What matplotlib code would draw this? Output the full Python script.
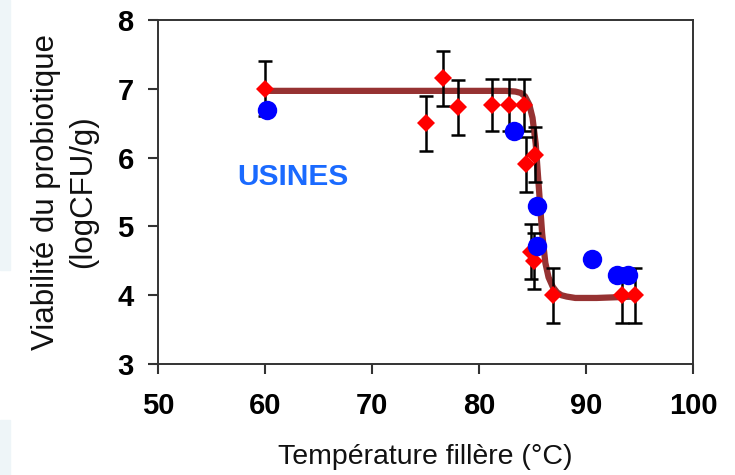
import matplotlib.pyplot as plt
from matplotlib.patches import Rectangle

plt.rcParams['font.family'] = ['Liberation Sans', 'DejaVu Sans']

# red diamonds (with error bars)
lab_temp = [60.0, 75.0, 76.6, 78.0, 81.2, 82.8, 84.2, 84.4, 85.25, 84.9, 85.1, 86.9, 93.4, 94.6]
lab_viab = [7.0, 6.5, 7.15, 6.73, 6.76, 6.76, 6.76, 5.9, 6.04, 4.63, 4.5, 4.0, 4.0, 4.0]
lab_err = [0.4, 0.4, 0.4, 0.4, 0.38, 0.38, 0.38, 0.4, 0.4, 0.4, 0.41, 0.4, 0.4, 0.4]

# blue circles (plants)
usine_temp = [60.2, 83.3, 85.4, 85.4, 90.6, 92.9, 93.9]
usine_viab = [6.69, 6.39, 5.30, 4.71, 4.52, 4.30, 4.30]

# fitted curve, points
fit_temp = [60, 82.5, 83.4, 83.9, 84.3, 84.7, 85.0, 85.3, 85.6, 85.9, 86.2, 86.5, 86.9, 87.3, 87.7, 88.2, 89.0, 91.0, 94.6]
fit_viab = [6.97, 6.97, 6.96, 6.94, 6.89, 6.77, 6.58, 6.20, 5.55, 4.90, 4.47, 4.26, 4.12, 4.04, 4.00, 3.98, 3.96, 3.96, 3.98]

fig = plt.figure(figsize=(7.35, 4.75), dpi=100)
# light panels at the left edge
fig.patches.append(Rectangle((0, 1 - 270 / 475), 10 / 735, 270 / 475, transform=fig.transFigure,
                             color='#eef5f8', zorder=0))
fig.patches.append(Rectangle((0, 0), 10 / 735, 55 / 475, transform=fig.transFigure,
                             color='#eef5f8', zorder=0))

ax = fig.add_axes([158 / 735, 1 - 364 / 475, 535 / 735, 344 / 475])

ax.plot(fit_temp, fit_viab, color='#963232', lw=4.5, zorder=2, solid_capstyle='butt',
        solid_joinstyle='round')
ax.errorbar(lab_temp, lab_viab, yerr=lab_err, fmt='none', ecolor='black',
            elinewidth=1.8, capsize=4.7, capthick=1.8, zorder=3)
ax.plot(lab_temp, lab_viab, 'D', color='red', markersize=9, markeredgewidth=0, zorder=4)
ax.plot(usine_temp, usine_viab, 'o', color='#0000ff', markersize=14, markeredgewidth=0, zorder=5)

ax.text(57.4, 5.72, 'USINES', color='#1a6aff', fontsize=21.5, fontweight='bold', va='center')

ax.set_xlim(50, 100)
ax.set_ylim(3, 8)
ax.set_xticks([50, 60, 70, 80, 90, 100])
ax.set_yticks([3, 4, 5, 6, 7, 8])
ax.tick_params(direction='out', length=7.5, width=1.5, color='#333333', labelsize=21)
ax.tick_params(axis='x', pad=13)
ax.tick_params(axis='y', pad=10)
for lbl in ax.get_xticklabels() + ax.get_yticklabels():
    lbl.set_fontweight('bold')
for sp in ax.spines.values():
    sp.set_color('#333333')
    sp.set_linewidth(1.4)

ax.set_xlabel('Température fillère (°C)', fontsize=20.5, labelpad=17, color='#111111')
ax.set_ylabel('Viabilité du probiotique\n(logCFU/g)', fontsize=22.5, labelpad=14,
              linespacing=1.3, color='#111111')

plt.savefig('out.png', dpi=100)
